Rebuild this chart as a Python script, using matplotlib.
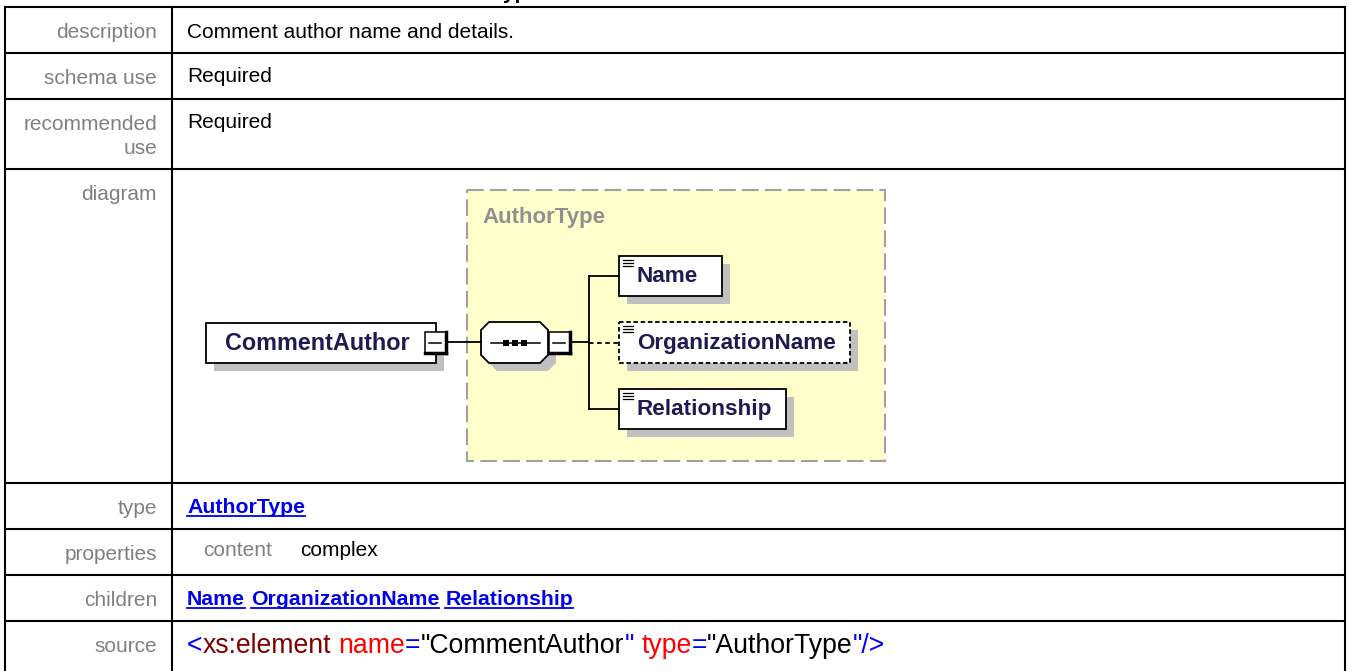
import matplotlib.pyplot as plt
from matplotlib.patches import Rectangle, Polygon

plt.rcParams['font.family'] = ['Liberation Sans', 'DejaVu Sans']

# table content
row_labels = ['description', 'schema use', 'recommended\nuse', 'diagram',
              'type', 'properties', 'children', 'source']
row_edges = [7, 53, 99, 169, 483, 529, 575, 621, 690]
description = 'Comment author name and details.'
schema_use = 'Required'
recommended_use = 'Required'
type_link = 'AuthorType'
prop_name, prop_value = 'content', 'complex'
children = ['Name', 'OrganizationName', 'Relationship']
source_parts = [('<', '#0000ff'), ('xs:element', '#800000'), (' ', None),
                ('name', '#ff0000'), ('=', '#0000ff'), ('"CommentAuthor', '#000000'),
                ('"', '#0000ff'), (' ', None), ('type', '#ff0000'), ('=', '#0000ff'),
                ('"AuthorType', '#000000'), ('"/>', '#0000ff')]

# diagram content
element_name = 'CommentAuthor'
complex_type = 'AuthorType'
child_optional = [False, True, False]

W, H = 1348, 671
fig = plt.figure(figsize=(W / 100, H / 100), dpi=100)
ax = fig.add_axes([0, 0, 1, 1])
ax.set_xlim(0, W)
ax.set_ylim(H, 0)
ax.axis('off')

LEFT, SPLIT, RIGHT = 5, 172, 1345
LABEL_C = '#808080'
FS = 15

# header fragment, cut off at the top as in the page capture
ax.text(540, -1, 'AuthorType', fontsize=15, fontweight='bold', ha='right',
        va='baseline', color='black')

# grid
for y in row_edges[:-1]:
    ax.plot([LEFT, RIGHT], [y, y], color='black', lw=1.5, solid_capstyle='butt')
for x in (LEFT, SPLIT, RIGHT):
    ax.plot([x, x], [row_edges[0], H + 5], color='black', lw=1.5)

for i, lab in enumerate(row_labels):
    y = row_edges[i] + 25
    if '\n' in lab:
        for j, part in enumerate(lab.split('\n')):
            ax.text(157, y + j * 24, part, fontsize=FS, color=LABEL_C,
                    ha='right', va='center')
    else:
        ax.text(157, y, lab, fontsize=FS, color=LABEL_C, ha='right', va='center')

TX = 187
ax.text(TX, row_edges[0] + 25, description, fontsize=FS, va='center')
ax.text(TX, row_edges[1] + 24, schema_use, fontsize=FS, va='center')
ax.text(TX, row_edges[2] + 24, recommended_use, fontsize=FS, va='center')

fig.canvas.draw()
renderer = fig.canvas.get_renderer()
inv = ax.transData.inverted()


def text_right(t):
    bb = t.get_window_extent(renderer)
    return inv.transform((bb.x1, bb.y0))[0]


def link(x, y, s):
    t = ax.text(x, y, s, fontsize=15.3, fontweight='bold', color='#0000ee',
                va='baseline')
    x1 = text_right(t)
    ax.plot([x, x1], [y + 3, y + 3], color='#0000ee', lw=1.3)
    return x1


link(TX, row_edges[4] + 30, type_link)

ax.text(203, row_edges[5] + 21, prop_name, fontsize=FS, color=LABEL_C, va='center')
ax.text(300, row_edges[5] + 21, prop_value, fontsize=FS, va='center')

x = TX
for c in children:
    x = link(x, row_edges[6] + 30, c) + 6

x = TX
for s, col in source_parts:
    if col is None:
        x += 7.5
        continue
    t = ax.text(x, row_edges[7] + 32, s, fontsize=19.2, color=col, va='baseline')
    x = text_right(t)

# ---- diagram ----
SH = '#c0c0c0'
NAVY = '#1c1c50'
OFF = 8

ax.add_patch(Rectangle((467, 190), 418, 271, facecolor='#ffffcc',
                       edgecolor='#a0a0a0', lw=1.5, linestyle=(0, (8, 3))))
ax.text(482, 218, complex_type, fontsize=16, fontweight='bold',
        color='#909090', va='center')


def toggle(x0, y0, w=21, h=21):
    ax.add_patch(Rectangle((x0, y0), w, h, facecolor='white',
                           edgecolor='black', lw=1.1, zorder=5))
    ax.plot([x0 + w, x0 + w], [y0, y0 + h], color='black', lw=2.5, zorder=6)
    ax.plot([x0, x0 + w], [y0 + h, y0 + h], color='black', lw=2.5, zorder=6)
    ax.plot([x0 + 4, x0 + w - 5], [y0 + h / 2, y0 + h / 2], color='black',
            lw=1.1, zorder=6)


def element_box(x0, y0, x1, y1, label, dashed=False, icon=True, fs=16.2):
    ax.add_patch(Rectangle((x0 + OFF, y0 + OFF), x1 - x0, y1 - y0,
                           facecolor=SH, edgecolor='none', zorder=2))
    ax.add_patch(Rectangle((x0, y0), x1 - x0, y1 - y0, facecolor='white',
                           edgecolor='black', lw=1.3,
                           linestyle=(0, (2.5, 1.5)) if dashed else '-', zorder=3))
    if icon:
        for k in range(3):
            ax.plot([x0 + 4, x0 + 14], [y0 + 4 + k * 3, y0 + 4 + k * 3],
                    color='black', lw=0.9, zorder=4)
        tx = x0 + 18
    else:
        tx = x0 + 19
    ax.text(tx, (y0 + y1) / 2 + 1, label, fontsize=fs, fontweight='bold',
            color=NAVY, va='center', zorder=4)


# root element
element_box(206, 323, 436, 363, element_name, icon=False, fs=16.8)
ax.plot([447, 481], [342, 342], color='black', lw=1.3, zorder=4)
toggle(425, 332)

# sequence compositor
x0, x1, y0, y1, c = 481, 548, 322, 363, 8
octo = [(x0 + c, y0), (x1 - c, y0), (x1, y0 + c), (x1, y1 - c),
        (x1 - c, y1), (x0 + c, y1), (x0, y1 - c), (x0, y0 + c)]
ax.add_patch(Polygon([(px + OFF, py + OFF) for px, py in octo], closed=True,
                     facecolor=SH, edgecolor='none', zorder=2))
ax.add_patch(Polygon(octo, closed=True, facecolor='white', edgecolor='black',
                     lw=1.3, zorder=3))
ax.plot([491, 540], [342.5, 342.5], color='black', lw=1.1, zorder=4)
for sx in (506, 515, 524):
    ax.add_patch(Rectangle((sx - 3, 339.5), 6, 6, facecolor='black', zorder=5))
toggle(549, 332)

# connectors to children
child_boxes = [(619, 256, 722, 296), (619, 322, 850, 363), (619, 389, 786, 429)]
ys = [(b[1] + b[3]) / 2 for b in child_boxes]
ax.plot([571, 589], [342, 342], color='black', lw=1.3, zorder=4)
ax.plot([589, 589], [ys[0], ys[-1]], color='black', lw=1.3, zorder=4)
for (bx0, by0, bx1, by1), name, opt, yc in zip(child_boxes, children,
                                                child_optional, ys):
    ax.plot([589, bx0], [yc, yc], color='black', lw=1.3,
            linestyle=(0, (2.5, 2)) if opt else '-', zorder=4)
    element_box(bx0, by0, bx1, by1, name, dashed=opt)

fig.savefig('out.png', dpi=100)
